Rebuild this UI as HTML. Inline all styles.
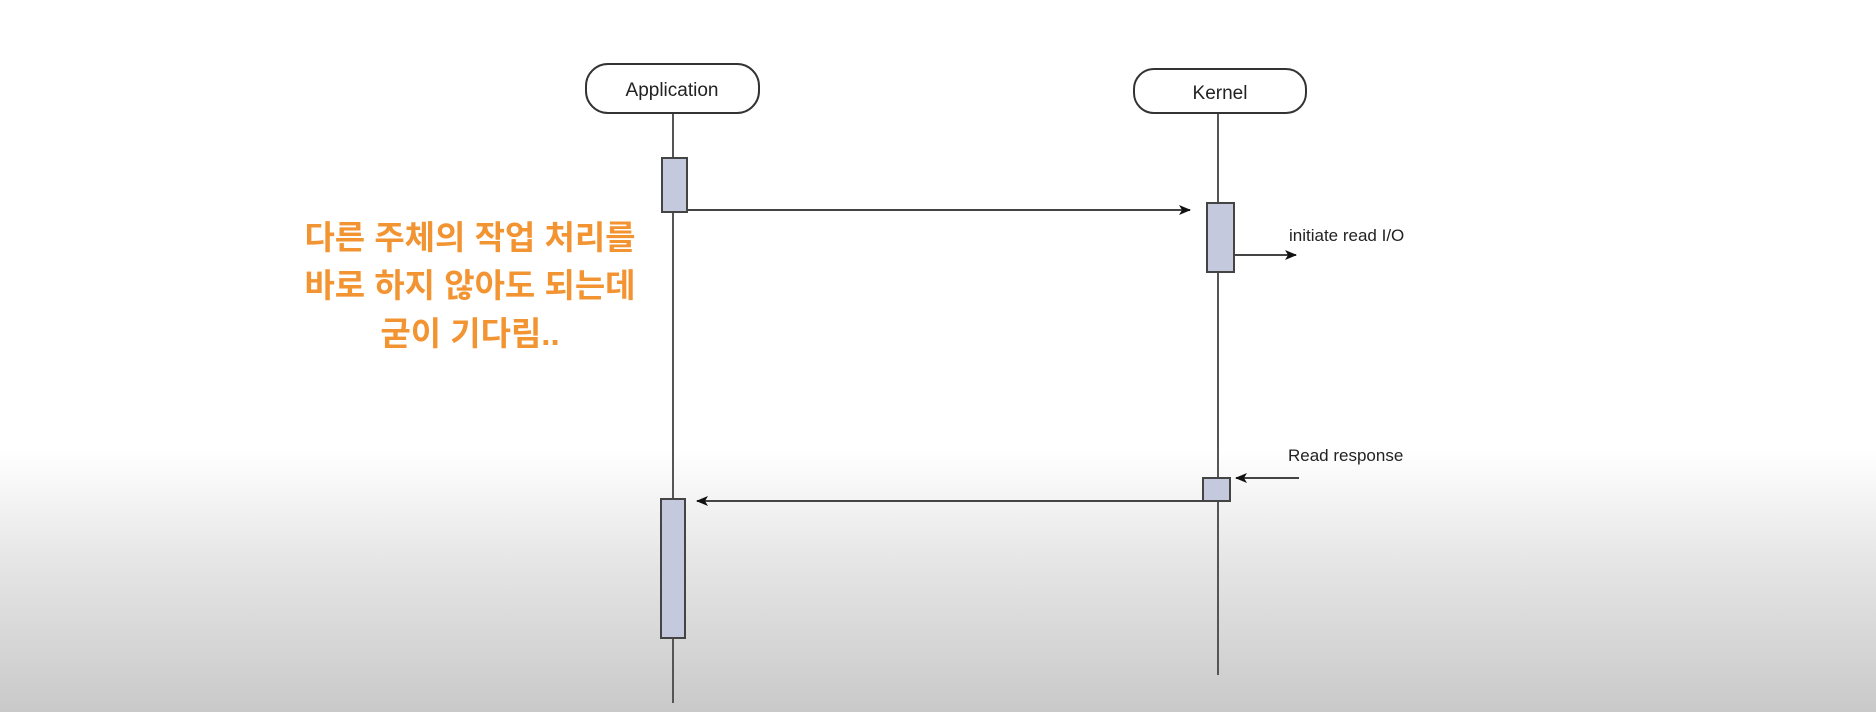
<!DOCTYPE html>
<html><head><meta charset="utf-8"><style>
html,body{margin:0;padding:0}
body{width:1876px;height:712px;overflow:hidden;background:linear-gradient(to bottom,#fff 0px,#fff 450px,#e6e6e6 560px,#c9c9c9 712px);font-family:"Liberation Sans",sans-serif}
svg{position:absolute;left:0;top:0}
.ko{position:absolute;left:250px;top:214px;width:440px;text-align:center;font-family:"Liberation Sans","Noto Sans CJK KR",sans-serif;font-weight:bold;font-size:33px;line-height:48px;color:#f39433}
</style></head><body>
<svg width="1876" height="712" viewBox="0 0 1876 712">
<defs><marker id="a" markerWidth="12" markerHeight="10" refX="11" refY="5" orient="auto" markerUnits="userSpaceOnUse"><path d="M0,0 L12,5 L0,10 L3,5z" fill="#111"/></marker></defs>
<g stroke="#555" stroke-width="2" fill="none">
<line x1="673" y1="113" x2="673" y2="703"/>
<line x1="1218" y1="113" x2="1218" y2="675"/>
</g>
<rect x="586" y="64" width="173" height="49" rx="22" fill="#fff" stroke="#333" stroke-width="2"/>
<rect x="1134" y="69" width="172" height="44" rx="20" fill="#fff" stroke="#333" stroke-width="2"/>
<text x="672" y="96" font-size="19" text-anchor="middle" fill="#222">Application</text>
<text x="1220" y="99" font-size="19" text-anchor="middle" fill="#222">Kernel</text>
<g fill="#c5c9de" stroke="#444" stroke-width="2">
<rect x="662" y="158" width="25" height="54"/>
<rect x="1207" y="203" width="27" height="69"/>
<rect x="1203" y="478" width="27" height="23"/>
<rect x="661" y="499" width="24" height="139"/>
</g>
<g stroke="#444" stroke-width="2" fill="none">
<line x1="687" y1="210" x2="1190" y2="210" marker-end="url(#a)"/>
<line x1="1234" y1="255" x2="1296" y2="255" marker-end="url(#a)"/>
<line x1="1299" y1="478" x2="1236" y2="478" marker-end="url(#a)"/>
<line x1="1203" y1="501" x2="697" y2="501" marker-end="url(#a)"/>
</g>
<text x="1289" y="241" font-size="17" fill="#222">initiate read I/O</text>
<text x="1288" y="461" font-size="17" fill="#222">Read response</text>
</svg>
<div class="ko">다른 주체의 작업 처리를<br>바로 하지 않아도 되는데<br>굳이 기다림..</div>
</body></html>
